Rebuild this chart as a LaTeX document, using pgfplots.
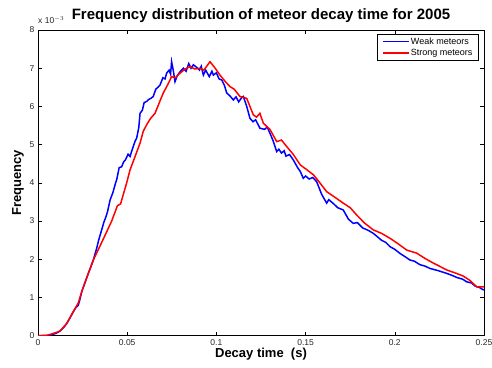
\documentclass[border=0pt]{standalone}
\usepackage{pgfplots}
\pgfplotsset{compat=1.18}
\usepackage{fontspec}
\setmainfont{Liberation Sans}
\begin{document}
\begin{tikzpicture}[x=1pt,y=1pt]
\begin{axis}[
  scale only axis, width=446pt, height=305.7pt,
  xmin=0, xmax=0.25, ymin=0, ymax=8,
  clip mode=individual,
  xtick={0,0.05,0.1,0.15,0.2,0.25},
  xticklabels={0,0.05,0.1,0.15,0.2,0.25},
  ytick={0,1,2,3,4,5,6,7,8},
  tick align=inside, tick pos=both,
  major tick length=4pt,
  axis line style={line width=0.9pt},
  tick style={line width=0.6pt,black},
  /pgf/number format/assume math mode=true,
  ticklabel style={font=\fontsize{8.5}{9}\selectfont, text=black!85},
  title={\bfseries Frequency distribution of meteor decay time for 2005},
  title style={font=\fontsize{15}{16}\selectfont, at={(0.5,1)}, anchor=base, yshift=4.5pt},
  xlabel={\bfseries Decay time\ \ (s)},
  ylabel={\bfseries Frequency},
  label style={font=\fontsize{13}{14}\selectfont},
  xlabel style={at={(axis description cs:0.5,0)}, anchor=base, yshift=-22pt},
  ylabel style={at={(axis description cs:-0.0448,0.5)}, anchor=center},
  legend style={at={(0.989,0.987)}, anchor=north east, font=\fontsize{9}{10}\selectfont,
    draw=black, line width=0.8pt, inner xsep=5pt, inner ysep=2pt,
    nodes={inner sep=1.2pt}, row sep=1pt},
  legend cell align=left,
  legend image code/.code={\draw[#1] (0pt,0pt) -- (26pt,0pt);},
]
\addplot[blue, line width=1.5pt] coordinates {
(0,0) (0.004,0.0) (0.007,0.02) (0.010,0.06) (0.0123,0.12) (0.0145,0.22) (0.0161,0.32)
(0.018,0.47) (0.0198,0.63) (0.021,0.72) (0.0226,0.80) (0.0235,0.95) (0.0245,1.15)
(0.026,1.35) (0.0282,1.63) (0.030,1.85) (0.031,1.98) (0.0329,2.29) (0.034,2.50)
(0.0357,2.77) (0.037,2.98) (0.038,3.10) (0.039,3.25) (0.0404,3.55) (0.042,3.75)
(0.0435,4.00) (0.0441,4.08) (0.0455,4.40) (0.0469,4.42) (0.048,4.55) (0.049,4.60)
(0.0505,4.75) (0.0516,4.69) (0.053,4.90) (0.0545,5.10) (0.0553,5.17) (0.0565,5.45)
(0.0572,5.82) (0.0585,5.90) (0.0595,6.10) (0.0609,6.13) (0.062,6.18) (0.0635,6.22)
(0.0646,6.26) (0.066,6.45) (0.0672,6.50) (0.0684,6.56) (0.070,6.75) (0.0712,6.72)
(0.0721,6.87) (0.0735,6.95) (0.0743,6.85) (0.0749,7.17) (0.0758,6.95) (0.0768,6.65)
(0.078,6.80) (0.0795,6.90) (0.0815,7.00) (0.083,6.92) (0.0845,7.12) (0.0858,7.00)
(0.0871,7.09) (0.089,7.02) (0.0905,6.95) (0.0915,7.05) (0.0927,6.82) (0.094,6.95)
(0.096,6.78) (0.0975,6.92) (0.0983,6.82) (0.100,6.88) (0.1015,6.72) (0.103,6.69)
(0.1045,6.55) (0.1058,6.35) (0.1075,6.28) (0.1095,6.17) (0.111,6.25) (0.1125,6.12)
(0.114,6.22) (0.1151,6.26) (0.117,6.00) (0.1188,5.69) (0.1205,5.60) (0.122,5.65)
(0.1244,5.43) (0.127,5.40) (0.1285,5.46) (0.130,5.30) (0.1318,5.10) (0.1338,4.82)
(0.135,4.88) (0.1365,4.78) (0.138,4.84) (0.139,4.70) (0.141,4.74) (0.1431,4.60)
(0.1455,4.40) (0.147,4.30) (0.1487,4.12) (0.150,4.18) (0.152,4.10) (0.154,4.14)
(0.1562,4.03) (0.159,3.70) (0.1618,3.47) (0.163,3.56) (0.1645,3.50) (0.166,3.44)
(0.168,3.35) (0.1711,3.29) (0.174,3.05) (0.1767,2.94) (0.179,2.96) (0.182,2.82)
(0.185,2.76) (0.1879,2.68) (0.190,2.60) (0.1925,2.50) (0.195,2.44) (0.1973,2.33)
(0.200,2.26) (0.203,2.15) (0.206,2.06) (0.2085,1.98) (0.211,1.95) (0.214,1.86)
(0.217,1.82) (0.2197,1.76) (0.2245,1.70) (0.2291,1.63) (0.232,1.58) (0.235,1.52)
(0.238,1.48) (0.2403,1.41) (0.243,1.38) (0.245,1.30) (0.2475,1.26) (0.2496,1.20) (0.25,1.21)
};
\addlegendentry{Weak meteors}
\addplot[red, line width=1.5pt] coordinates {
(0,0) (0.005,0.01) (0.008,0.05) (0.0123,0.12) (0.0161,0.32) (0.0198,0.63) (0.0226,0.86)
(0.0245,1.15) (0.0282,1.63) (0.031,1.98) (0.0363,2.50) (0.0413,3.00) (0.0445,3.40)
(0.0463,3.45) (0.0497,4.00) (0.0516,4.34) (0.0545,4.70) (0.0572,5.04) (0.059,5.35)
(0.0609,5.52) (0.063,5.68) (0.0656,5.82) (0.068,6.10) (0.0702,6.35) (0.0725,6.55)
(0.0749,6.78) (0.077,6.75) (0.0796,6.87) (0.0825,6.98) (0.0852,7.04) (0.088,6.98)
(0.0908,7.00) (0.093,6.95) (0.0964,7.17) (0.099,7.02) (0.102,6.82) (0.105,6.65)
(0.1076,6.52) (0.110,6.45) (0.1132,6.26) (0.117,6.21) (0.1207,5.78) (0.1225,5.72)
(0.1244,5.82) (0.1263,5.56) (0.130,5.40) (0.1338,5.08) (0.1365,5.12) (0.1394,4.95)
(0.143,4.75) (0.147,4.47) (0.1505,4.35) (0.1544,4.21) (0.158,4.00) (0.1618,3.77)
(0.1665,3.62) (0.1711,3.47) (0.175,3.35) (0.1786,3.16) (0.183,2.95) (0.1879,2.77)
(0.1925,2.68) (0.1973,2.55) (0.202,2.40) (0.2067,2.24) (0.2095,2.20) (0.2123,2.16)
(0.217,2.02) (0.2216,1.90) (0.225,1.82) (0.2291,1.72) (0.234,1.64) (0.2384,1.56)
(0.242,1.45) (0.2459,1.28) (0.2496,1.28) (0.25,1.28)
};
\addlegendentry{Strong meteors}
\node[anchor=base west, font=\fontsize{8.5}{9}\selectfont, text=black!85, inner sep=0pt]
  at (rel axis cs:0,1) [yshift=7pt] {x 10$^{-3}$};
\end{axis}
\pgfresetboundingbox
\path (-38pt,-31.3pt) rectangle (454pt,335.7pt);
\end{tikzpicture}
\end{document}
